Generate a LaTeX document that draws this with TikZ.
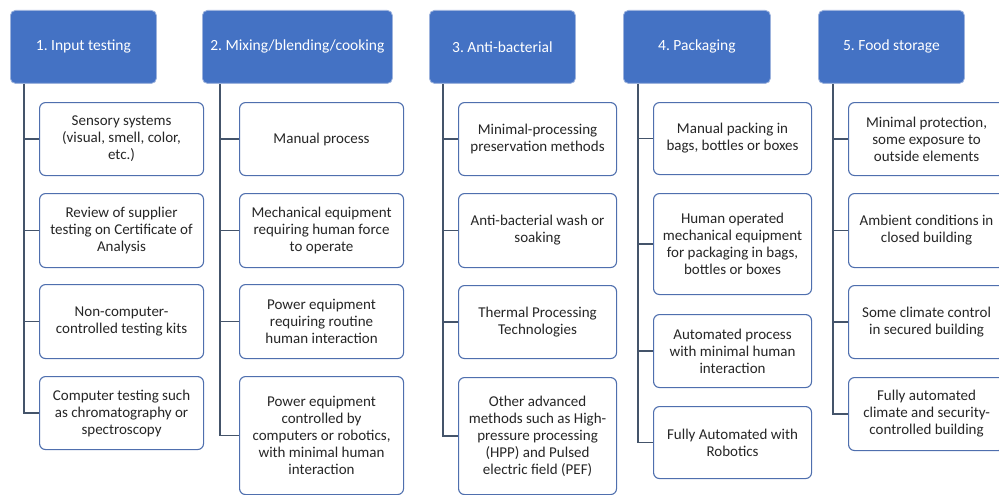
\documentclass[tikz,border=0pt]{standalone}
\usepackage{fontspec}
\setmainfont{Carlito}
\frenchspacing
\definecolor{headfill}{HTML}{4472C4}
\definecolor{headline}{HTML}{9DB3DD}
\definecolor{boxline}{HTML}{4F6FAE}
\definecolor{trunk}{HTML}{44546A}
\definecolor{txt}{HTML}{262626}
\tikzset{
  headbox/.style={draw=headline, line width=0.8pt, fill=headfill, rounded corners=5pt,
    text=white, font=\fontsize{15.5}{17}\selectfont, align=center, inner sep=0pt, anchor=north west},
  itembox/.style={draw=boxline, line width=1.1pt, fill=white, rounded corners=6pt,
    text=txt, font=\fontsize{15}{17}\selectfont, align=center, inner sep=0pt, anchor=north west},
  link/.style={draw=trunk, line width=1.3pt}
}
% \pbox{name}{style}{x}{y}{width}{height}{text}, in pixel units, y downwards
\newcommand{\pbox}[7]{%
  \node[#2, minimum width=#5pt, minimum height=#6pt] (#1) at (#3pt,-#4pt) {#7};}
\begin{document}
\begin{tikzpicture}
\useasboundingbox (0,0) rectangle (999pt,-495pt);
% headers
\pbox{h1}{headbox}{10}{10}{146}{73}{1. Input testing}
\pbox{h2}{headbox}{202}{10}{190}{73}{2. Mixing/blending/cooking}
\pbox{h3}{headbox}{429}{10}{146}{73}{3. Anti-bacterial}
\pbox{h4}{headbox}{623}{10}{147}{73}{4. Packaging}
\pbox{h5}{headbox}{818}{10}{146}{73}{5. Food storage}
% trunk positions
\coordinate (t1) at (24pt,0);
\coordinate (t2) at (220pt,0);
\coordinate (t3) at (443pt,0);
\coordinate (t4) at (638pt,0);
\coordinate (t5) at (833pt,0);
% column 1
\pbox{a1}{itembox}{39}{102}{164}{73}{Sensory systems\\(visual, smell, color,\\etc.)}
\pbox{a2}{itembox}{39}{193}{164}{74}{Review of supplier\\testing on Certificate of\\Analysis}
\pbox{a3}{itembox}{39}{284}{164}{74}{Non-computer-\\controlled testing kits}
\pbox{a4}{itembox}{39}{376}{164}{73}{Computer testing such\\as chromatography or\\spectroscopy}
% column 2
\pbox{b1}{itembox}{239}{102}{164}{73}{Manual process}
\pbox{b2}{itembox}{239}{193}{164}{74}{Mechanical equipment\\requiring human force\\to operate}
\pbox{b3}{itembox}{239}{284}{164}{74}{Power equipment\\requiring routine\\human interaction}
\pbox{b4}{itembox}{239}{376}{164}{118}{Power equipment\\controlled by\\computers or robotics,\\with minimal human\\interaction}
% column 3
\pbox{c1}{itembox}{458}{102}{158}{73}{Minimal-processing\\preservation methods}
\pbox{c2}{itembox}{458}{193}{158}{74}{Anti-bacterial wash or\\soaking}
\pbox{c3}{itembox}{458}{285}{158}{73}{Thermal Processing\\Technologies}
\pbox{c4}{itembox}{458}{377}{158}{117}{Other advanced\\methods such as High-\\pressure processing\\(HPP) and Pulsed\\electric field (PEF)}
% column 4
\pbox{d1}{itembox}{653}{102}{158}{72}{Manual packing in\\bags, bottles or boxes}
\pbox{d2}{itembox}{653}{193}{158}{101}{Human operated\\mechanical equipment\\for packaging in bags,\\bottles or boxes}
\pbox{d3}{itembox}{653}{314}{158}{73}{Automated process\\with minimal human\\interaction}
\pbox{d4}{itembox}{653}{406}{158}{72}{Fully Automated with\\Robotics}
% column 5 (boxes run past the right edge)
\pbox{e1}{itembox}{848}{102}{156}{73}{Minimal protection,\\some exposure to\\outside elements}
\pbox{e2}{itembox}{848}{193}{156}{74}{Ambient conditions in\\closed building}
\pbox{e3}{itembox}{848}{285}{156}{73}{Some climate control\\in secured building}
\pbox{e4}{itembox}{848}{377}{156}{73}{Fully automated\\climate and security-\\controlled building}
% connectors: trunk down from each header, branch into each item
\foreach \h/\t/\c in {h1/t1/a, h2/t2/b, h3/t3/c, h4/t4/d, h5/t5/e}{
  \draw[link] (\h.south -| \t) |- (\c4.west);
  \foreach \i in {1,2,3}{
    \draw[link] (\c\i.west -| \t) -- (\c\i.west);
  }
}
\end{tikzpicture}
\end{document}
